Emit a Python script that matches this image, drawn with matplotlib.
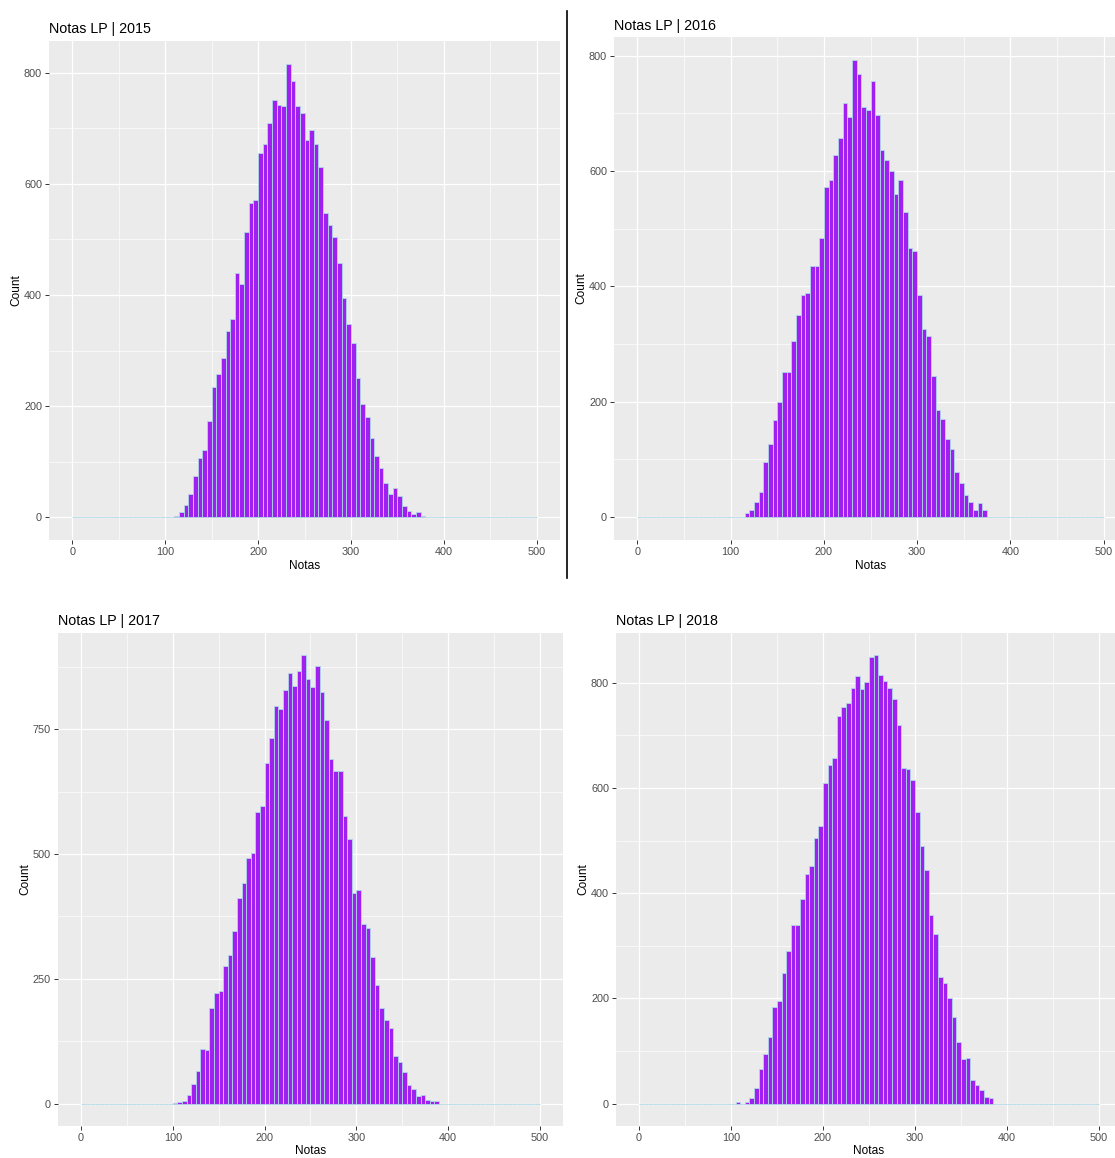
import numpy as np
import matplotlib
matplotlib.use('Agg')
import matplotlib.pyplot as plt
from matplotlib.lines import Line2D

W, H = 1115, 1158
plt.rcParams['font.family'] = ['Liberation Sans', 'DejaVu Sans']

# counts per 5-point bin; first bin start given separately
start_2015 = 110
counts_2015 = [2, 9, 22, 42, 75, 107, 121, 174, 235, 258, 286, 335, 356, 439, 420,
               513, 565, 570, 655, 672, 709, 751, 742, 739, 816, 784, 740, 727, 679, 696,
               672, 630, 547, 526, 504, 458, 395, 347, 314, 250, 203, 180, 143, 110, 88,
               62, 42, 52, 39, 20, 12, 6, 10, 3, 1]

start_2016 = 115
counts_2016 = [8, 12, 27, 44, 96, 127, 169, 200, 251, 251, 306, 351, 386, 389, 435,
               435, 484, 573, 585, 628, 657, 719, 694, 793, 769, 712, 706, 757, 697, 637,
               619, 600, 560, 585, 530, 467, 461, 386, 327, 314, 245, 185, 171, 136, 118,
               78, 60, 38, 27, 13, 24, 12]

start_2017 = 100
counts_2017 = [1, 3, 5, 17, 39, 66, 109, 107, 191, 222, 225, 275, 297, 345, 412, 442,
               493, 503, 584, 596, 682, 733, 796, 790, 829, 862, 836, 867, 898, 850, 834,
               876, 824, 768, 690, 666, 666, 576, 531, 421, 428, 359, 352, 293, 238, 191,
               168, 152, 96, 84, 64, 38, 29, 15, 17, 7, 5, 5]

start_2018 = 105
counts_2018 = [3, 0, 3, 11, 29, 66, 95, 126, 184, 195, 248, 291, 339, 340, 389,
               437, 451, 505, 528, 609, 643, 657, 737, 754, 761, 790, 812, 789, 801, 849,
               852, 815, 804, 790, 770, 720, 638, 636, 615, 555, 490, 445, 359, 322, 240,
               229, 200, 164, 117, 84, 86, 44, 35, 25, 13, 11]

years = ['2015', '2016', '2017', '2018']
yticks_2015 = [0, 200, 400, 600, 800]
yticks_2016 = [0, 200, 400, 600, 800]
yticks_2017 = [0, 250, 500, 750]
yticks_2018 = [0, 200, 400, 600, 800]
xticks = [0, 100, 200, 300, 400, 500]

binw = 5
lefts = np.arange(0, 500, binw)


def full_counts(start, vals):
    # every bin 0..500 gets drawn, empty ones give the light blue base line
    c = np.zeros(len(lefts))
    i0 = start // binw
    c[i0:i0 + len(vals)] = vals
    return c


def fig_box(x0, y0, x1, y1):
    return [x0 / W, 1 - y1 / H, (x1 - x0) / W, (y1 - y0) / H]


def draw_panel(fig, box, counts, yticks, title, title_base, count_x, notas_y):
    x0, y0, x1, y1 = box
    ax = fig.add_axes(fig_box(*box))
    ax.bar(lefts, counts, width=binw, align='edge', color='#A020F0',
           edgecolor='#ADD8E6', linewidth=0.6, zorder=2)
    ax.set_facecolor('#EBEBEB')
    for s in ax.spines.values():
        s.set_visible(False)
    ax.set_xticks(xticks)
    ax.set_xticks([50, 150, 250, 350, 450], minor=True)
    step = yticks[1] - yticks[0]
    ax.set_yticks(yticks)
    ax.set_yticks([t + step / 2 for t in yticks], minor=True)
    # limits after the ticks, otherwise the minor ticks stretch the range
    ymax = counts.max()
    ax.set_xlim(-25, 525)
    ax.set_ylim(-0.05 * ymax, 1.05 * ymax)
    ax.grid(which='major', color='white', linewidth=0.9)
    ax.grid(which='minor', color='white', linewidth=0.45)
    ax.set_axisbelow(True)
    ax.tick_params(which='minor', length=0)
    ax.tick_params(which='major', length=3, width=0.7, color='#333333',
                   labelcolor='#4D4D4D', labelsize=7.8, pad=2)

    fig.text(x0 / W, 1 - title_base / H, title, fontsize=10.3,
             ha='left', va='baseline', color='black')
    fig.text(count_x / W, 1 - (y0 + y1) / 2 / H, 'Count', fontsize=8.6,
             rotation=90, ha='center', va='center')
    fig.text((x0 + x1) / 2 / W, 1 - notas_y / H, 'Notas', fontsize=8.6,
             ha='center', va='center')
    return ax


fig = plt.figure(figsize=(W / 100, H / 100), dpi=100)

draw_panel(fig, (49, 41, 560, 540), full_counts(start_2015, counts_2015), yticks_2015,
           'Notas LP | ' + years[0], 33, 16, 566)
draw_panel(fig, (614, 37, 1127, 540), full_counts(start_2016, counts_2016), yticks_2016,
           'Notas LP | ' + years[1], 30, 581, 566)
draw_panel(fig, (58, 633, 563, 1126), full_counts(start_2017, counts_2017), yticks_2017,
           'Notas LP | ' + years[2], 625, 25, 1151)
draw_panel(fig, (616, 633, 1122, 1126), full_counts(start_2018, counts_2018), yticks_2018,
           'Notas LP | ' + years[3], 625, 583, 1151)

# divider between the two top plots
fig.add_artist(Line2D([567 / W, 567 / W], [1 - 11 / H, 1 - 578 / H],
                      color='black', linewidth=1.2))

fig.savefig('out.png', dpi=100)
